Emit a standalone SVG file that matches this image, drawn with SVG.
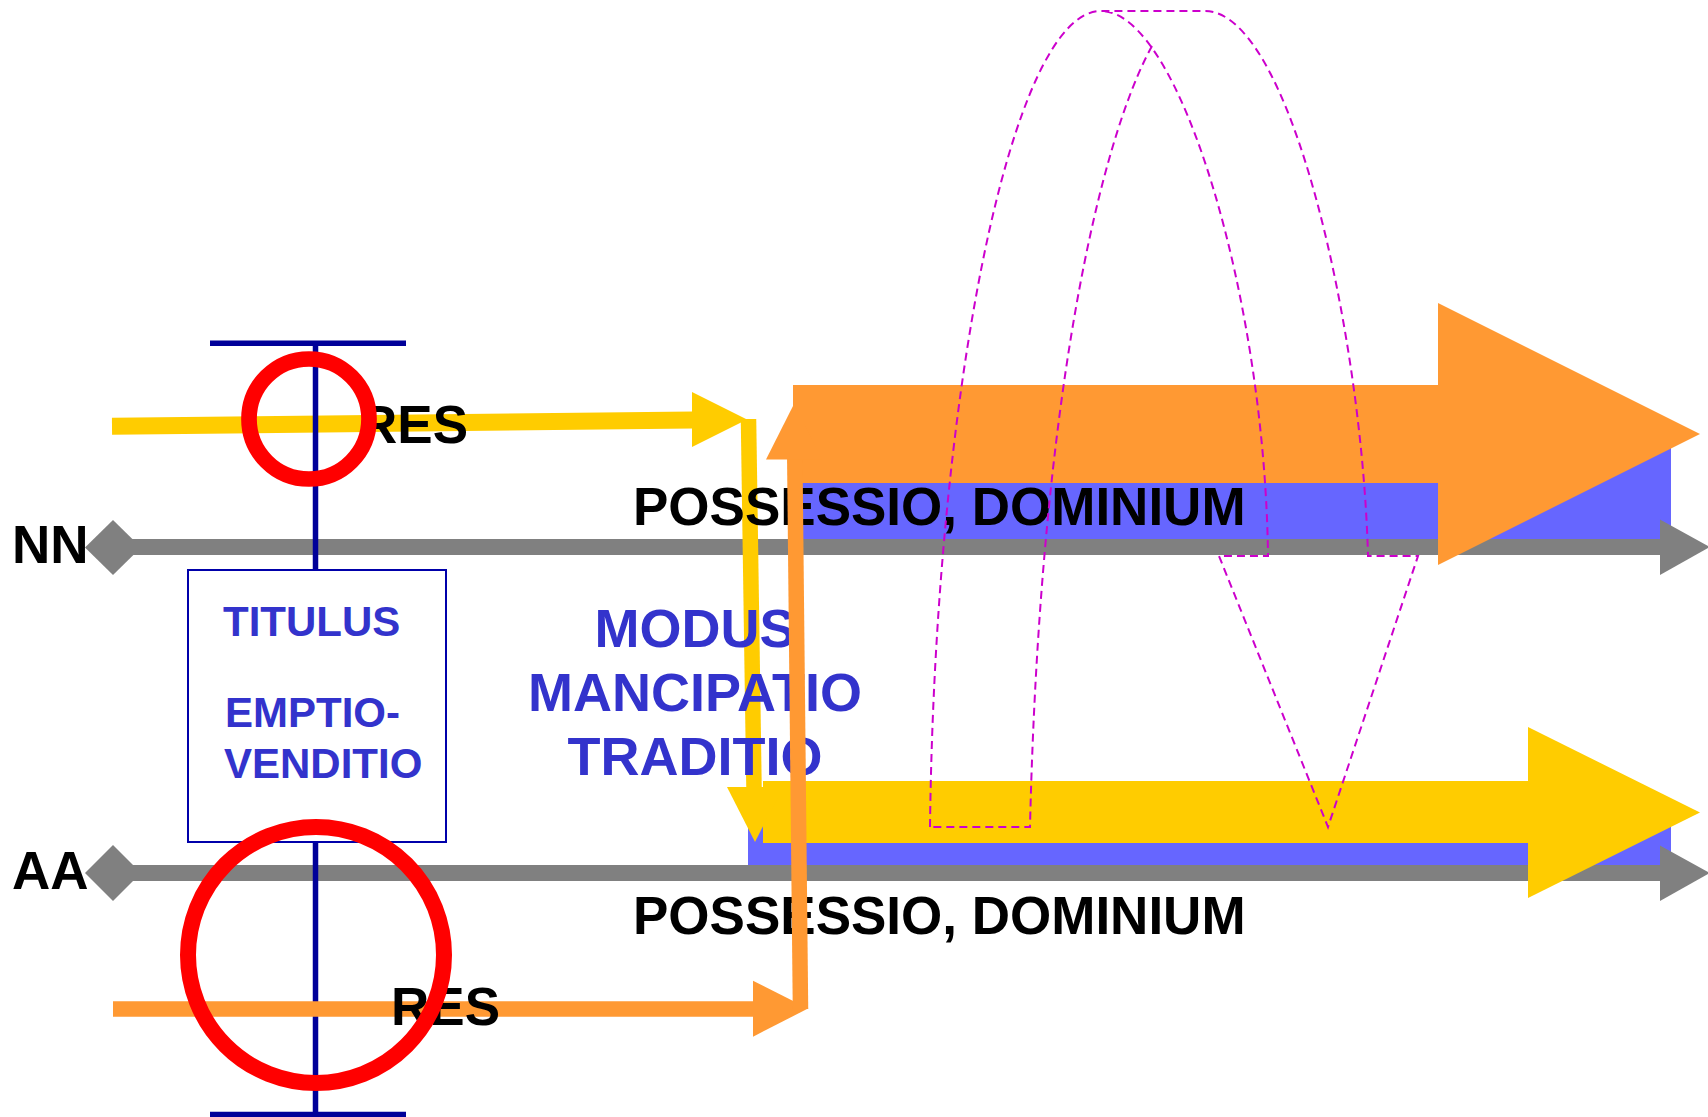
<svg xmlns="http://www.w3.org/2000/svg" width="1708" height="1117" viewBox="0 0 1708 1117">
<style>
.lbl{font-family:"Liberation Sans",Arial,Helvetica,sans-serif;font-weight:bold;font-size:53px;fill:#000}
.blu{font-family:"Liberation Sans",Arial,Helvetica,sans-serif;font-weight:bold;fill:#3333cc}
.gray{fill:#808080}
.yel{fill:#ffcc00}
.org{fill:#ff9933}
.bar{fill:#6666ff}
.ring{fill:none;stroke:#ff0000}
.dash{fill:none;stroke:#cc00cc;stroke-width:2;stroke-dasharray:8 5}
</style>
<rect width="1708" height="1117" fill="#fff"/>

<g id="bars">
  <rect class="bar" x="795" y="440" width="876" height="100"/>
  <rect class="bar" x="748" y="820" width="923" height="46"/>
</g>

<g id="timeline-NN">
  <rect class="gray" x="113" y="539" width="1550" height="16"/>
  <polygon class="gray" points="85,547.5 113,520 141,547.5 113,575"/>
  <polygon class="gray" points="1660,519.5 1710,547 1660,575"/>
  <text class="lbl" x="12" y="563">NN</text>
</g>
<g id="timeline-AA">
  <rect class="gray" x="113" y="865" width="1550" height="16"/>
  <polygon class="gray" points="85,873 113,845 141,873 113,901"/>
  <polygon class="gray" points="1660,845.5 1710,873 1660,901"/>
  <text class="lbl" x="12" y="889">AA</text>
</g>

<g id="big-arrow-NN">
  <rect class="org" x="793" y="385" width="646" height="98"/>
  <polygon class="org" points="1438,303 1700,434 1438,565"/>
</g>
<g id="big-arrow-AA">
  <rect class="yel" x="763" y="781" width="766" height="62"/>
  <polygon class="yel" points="1528,727 1700,812.5 1528,898"/>
</g>

<g id="connectors-yellow">
  <line x1="112" y1="426.3" x2="693" y2="420" stroke="#ffcc00" stroke-width="17"/>
  <polygon class="yel" points="692,392 747,419.5 692,447"/>
  <line x1="748.5" y1="419" x2="754" y2="788" stroke="#ffcc00" stroke-width="15.5"/>
  <polygon class="yel" points="727,787 783,787 755,842"/>
</g>

<g id="labels">
  <text class="lbl" x="633" y="525">POSSESSIO, DOMINIUM</text>
  <text class="lbl" x="633" y="934">POSSESSIO, DOMINIUM</text>
</g>

<g id="modus">
  <text class="blu" font-size="54" text-anchor="middle" x="695" y="647">MODUS</text>
  <text class="blu" font-size="54" text-anchor="middle" x="695" y="711">MANCIPATIO</text>
  <text class="blu" font-size="54" text-anchor="middle" x="695" y="775">TRADITIO</text>
</g>

<g id="titulus">
  <line x1="210" y1="343.3" x2="406" y2="343.3" stroke="#000099" stroke-width="5.5"/>
  <line x1="210" y1="1114.5" x2="406" y2="1114.5" stroke="#000099" stroke-width="5.5"/>
  <line x1="315.5" y1="343" x2="315.5" y2="1117" stroke="#000099" stroke-width="5.5"/>
  <rect x="188" y="570" width="258" height="272" fill="#fff" stroke="#0000aa" stroke-width="2"/>
  <text class="blu" font-size="42" x="223" y="636">TITULUS</text>
  <text class="blu" font-size="42" x="225" y="727">EMPTIO-</text>
  <text class="blu" font-size="42" x="224" y="778">VENDITIO</text>
</g>

<g id="connectors-orange">
  <line x1="113" y1="1009" x2="754" y2="1009" stroke="#ff9933" stroke-width="15.5"/>
  <polygon class="org" points="753,980.7 808,1008.5 753,1036.7"/>
  <line x1="794.8" y1="459" x2="800.5" y2="1009" stroke="#ff9933" stroke-width="15.5"/>
  <polygon class="org" points="766,459.5 822,459.5 794,404"/>
</g>

<g id="res-top">
  <text class="lbl" x="359" y="443">RES</text>
  <circle class="ring" cx="309" cy="419" r="60" stroke-width="15.7"/>
</g>
<g id="res-bottom">
  <text class="lbl" x="391" y="1025">RES</text>
  <circle class="ring" cx="316" cy="955" r="128" stroke-width="16"/>
</g>

<g id="dashed-arch">
  <path class="dash" d="M930,827 C935,400 1010,11 1101,11 L1205,11 C1290,11 1362,330 1368,556 L1418,556 L1328,827 L1219,556 L1268,556 C1265,300 1180,11 1101,11"/>
  <path class="dash" d="M1152,46 C1100,140 1040,400 1030,827 L930,827"/>
</g>
</svg>
